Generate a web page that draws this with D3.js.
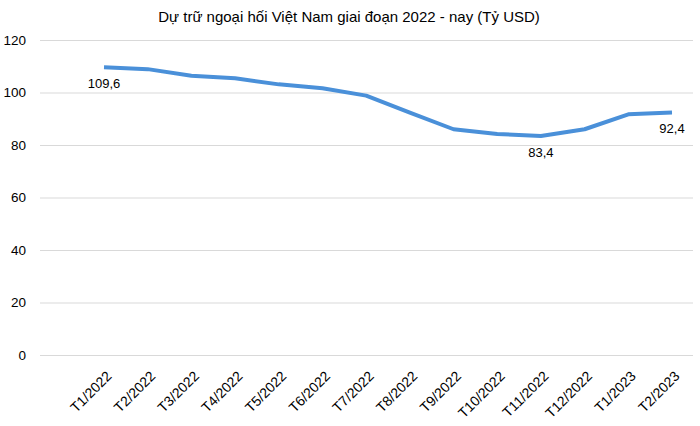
<!DOCTYPE html>
<html><head><meta charset="utf-8">
<script src="https://cdn.jsdelivr.net/npm/d3@7"></script>
<style>body{margin:0;background:#fff}svg{display:block}</style>
</head><body>
<script>
const title = "Dự trữ ngoại hối Việt Nam giai đoạn 2022 - nay (Tỷ USD)";
const categories = ["T1/2022","T2/2022","T3/2022","T4/2022","T5/2022","T6/2022","T7/2022","T8/2022","T9/2022","T10/2022","T11/2022","T12/2022","T1/2023","T2/2023"];
const values = [109.6,108.9,106.4,105.4,103.1,101.6,98.8,92.3,86.0,84.2,83.4,86.0,91.7,92.4];
const labelled = [0, 10, 13];
const labelTexts = ["109,6","83,4","92,4"];
const yTicks = [0,20,40,60,80,100,120];

const W = 700, H = 426;
const font = "Liberation Sans, Arial, sans-serif";
const svg = d3.select("body").append("svg").attr("width", W).attr("height", H);

const x = d3.scalePoint().domain(categories).range([104, 672]);
const y = d3.scaleLinear().domain([0, 120]).range([355, 40]);

svg.append("text").attr("x", 349).attr("y", 22).attr("text-anchor", "middle")
  .attr("font-family", font).attr("font-size", 15).attr("fill", "#000").text(title);

const yAxis = d3.axisLeft(y).tickValues(yTicks).tickSize(-(693 - 40)).tickPadding(14);
const gy = svg.append("g").attr("transform", "translate(40,0)").call(yAxis);
gy.select(".domain").remove();
gy.selectAll(".tick line").attr("stroke", "#d9d9d9").attr("stroke-width", 1);
gy.selectAll(".tick text").attr("font-family", font).attr("font-size", 13.5).attr("fill", "#000");

const xAxis = d3.axisBottom(x).tickSize(0).tickPadding(0);
const gx = svg.append("g").attr("transform", "translate(0,355)").call(xAxis);
gx.select(".domain").remove();
gx.selectAll(".tick text")
  .attr("font-family", font).attr("font-size", 14).attr("fill", "#000")
  .attr("text-anchor", "end").attr("dy", null).attr("y", 0)
  .attr("transform", "translate(8,22) rotate(-45)");

const line = d3.line().x((d, i) => x(categories[i])).y(d => y(d));
svg.append("path").datum(values).attr("d", line)
  .attr("fill", "none").attr("stroke", "#4a90d9").attr("stroke-width", 4)
  .attr("stroke-linejoin", "round").attr("stroke-linecap", "butt");

svg.selectAll("text.lbl").data(labelled).enter().append("text")
  .attr("class", "lbl")
  .attr("x", i => x(categories[i]))
  .attr("y", i => y(values[i]) + 21)
  .attr("text-anchor", "middle").attr("font-family", font).attr("font-size", 13).attr("fill", "#000")
  .text((d, k) => labelTexts[k]);
</script>
</body></html>
